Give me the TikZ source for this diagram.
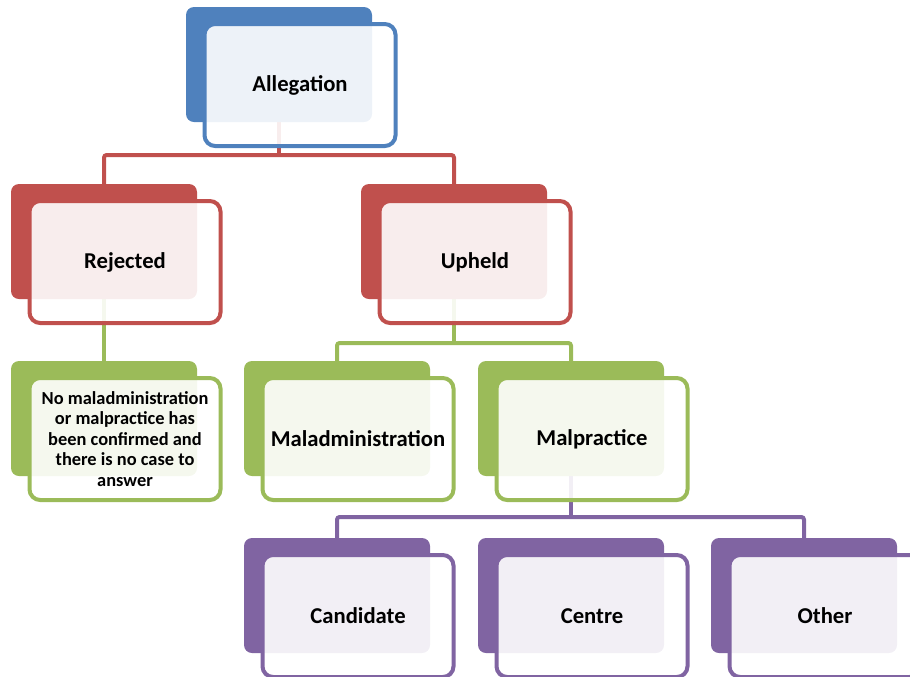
\documentclass[tikz,border=0pt]{standalone}
\usepackage{fontspec}
\setmainfont{Carlito}
\usetikzlibrary{backgrounds}
\definecolor{cblue}{HTML}{4F81BD}
\definecolor{cred}{HTML}{C0504D}
\definecolor{cgreen}{HTML}{9BBB59}
\definecolor{cpurple}{HTML}{8064A2}
\begin{document}
\begin{tikzpicture}[x=0.75pt,y=-0.75pt,
  backbox/.style={fill=#1, rounded corners=6pt, minimum width=139.5pt, minimum height=86.25pt, inner sep=0pt},
  frontbox/.style={draw=#1, line width=3pt, fill=white, fill opacity=0.9, text opacity=1, rounded corners=8pt,
    minimum width=143.25pt, minimum height=91.5pt, inner sep=0pt, align=center,
    font=\bfseries\fontsize{17}{19}\selectfont},
  smalltext/.style={font=\bfseries\fontsize{13.8}{15.4}\selectfont},
  link/.style={draw=#1, line width=3pt, rounded corners=2pt}]
\useasboundingbox (0,0) rectangle (910,676);
\clip (0,0) rectangle (910,676);
\newcommand\smartbox[6][]{%
  \node[backbox=#5] (#2b) at (#3,#4) {};
  \node[frontbox=#5, xshift=15.75pt, yshift=-15.375pt, #1] (#2) at (#3,#4) {#6};}
\smartbox{A}{279}{64.5}{cblue}{Allegation}
\smartbox{R}{104}{241.5}{cred}{Rejected}
\smartbox{U}{454}{241.5}{cred}{Upheld}
\smartbox[smalltext]{N}{104}{418.5}{cgreen}{No maladministration\\or malpractice has\\been confirmed and\\there is no case to\\answer}
\smartbox{Ma}{337}{418.5}{cgreen}{Maladministration}
\smartbox{Mp}{571}{418.5}{cgreen}{Malpractice}
\smartbox{C}{337}{595.5}{cpurple}{Candidate}
\smartbox{Ce}{571}{595.5}{cpurple}{Centre}
\smartbox{O}{804}{595.5}{cpurple}{Other}
\coordinate (bus1) at (279,155);
\coordinate (bus2) at (454,343);
\coordinate (bus3) at (571,517);
\begin{scope}[on background layer]
  \draw[link=cred] (Ab.center) -- (bus1);
  \draw[link=cred] (Rb.center) |- (bus1) -| (Ub.center);
  \draw[link=cgreen] (Rb.center) -- (Nb.center);
  \draw[link=cgreen] (Ub.center) -- (bus2);
  \draw[link=cgreen] (Mab.center) |- (bus2) -| (Mpb.center);
  \draw[link=cpurple] (Mpb.center) -- (bus3);
  \draw[link=cpurple] (Cb.center) |- (bus3) -| (Ob.center);
\end{scope}
\end{tikzpicture}
\end{document}
